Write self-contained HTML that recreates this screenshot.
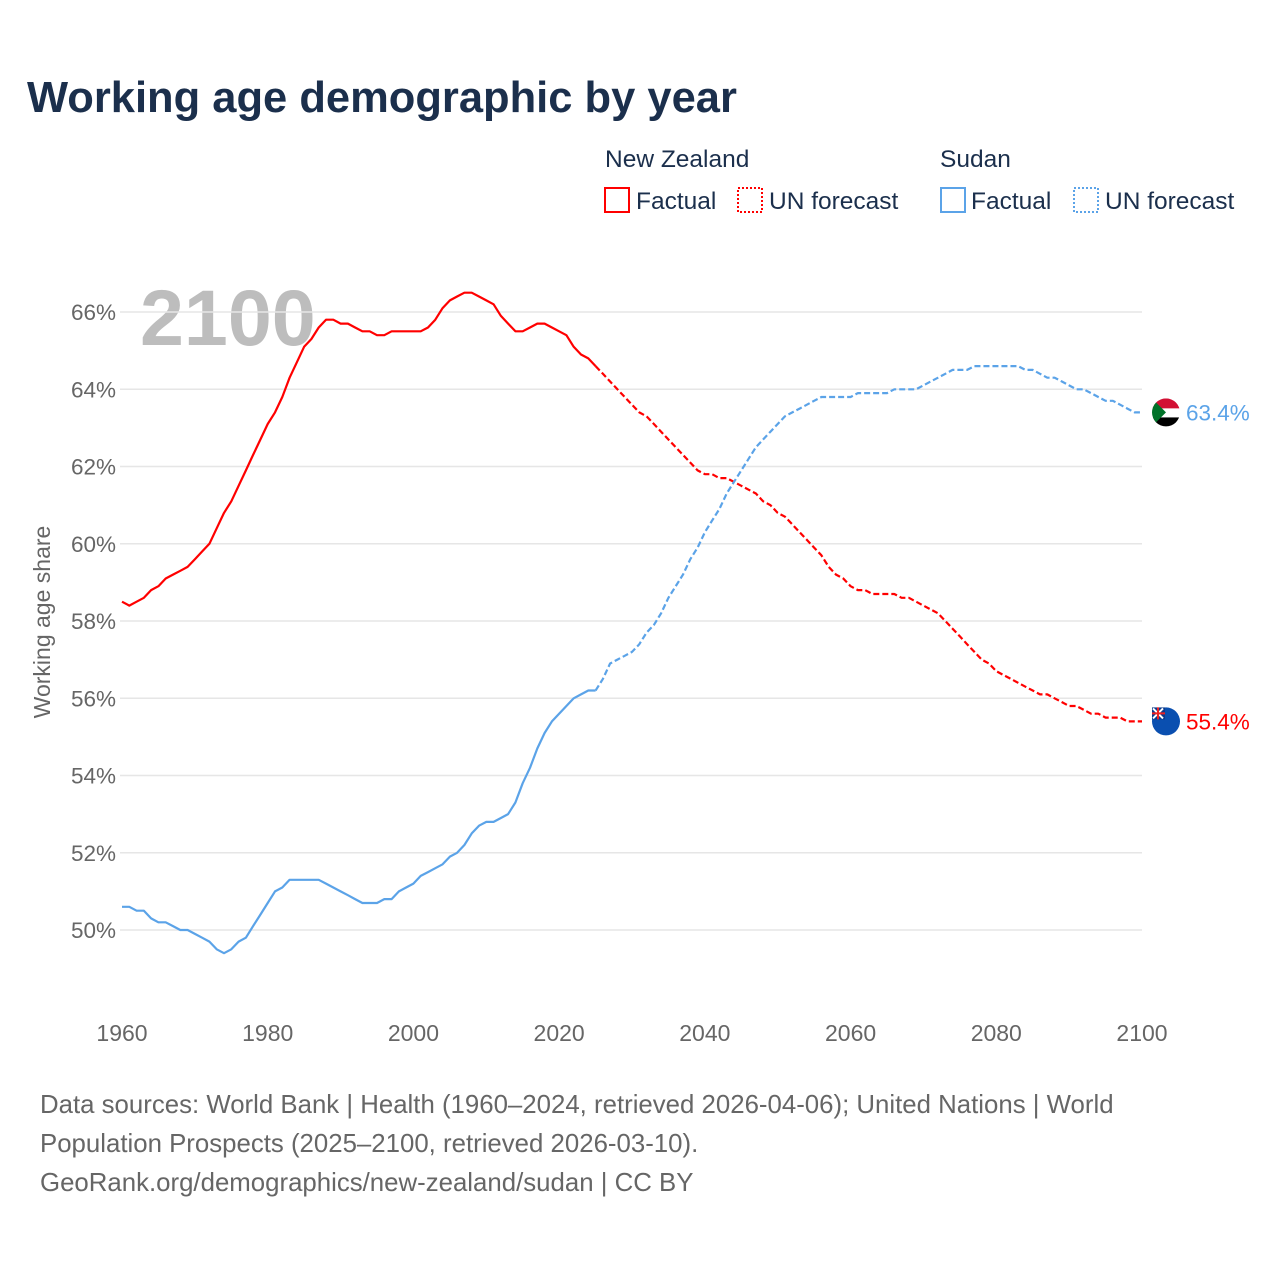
<!DOCTYPE html>
<html><head><meta charset="utf-8"><style>
body{margin:0;background:#fff;width:1280px;height:1280px;overflow:hidden;font-family:"Liberation Sans",sans-serif}
</style></head><body>
<svg id="chart" width="1280" height="1280" xmlns="http://www.w3.org/2000/svg" font-family="Liberation Sans, sans-serif">
<text x="27" y="112" font-size="43.5" font-weight="bold" fill="#1b2f4c">Working age demographic by year</text>
<g font-size="24.5" fill="#1b2f4c">
<text x="605" y="167">New Zealand</text>
<rect x="605" y="188" width="24" height="24" fill="none" stroke="#f00" stroke-width="2"/>
<text x="636" y="209">Factual</text>
<rect x="738" y="188" width="24" height="24" fill="none" stroke="#f00" stroke-width="2" stroke-dasharray="2,2"/>
<text x="769" y="209">UN forecast</text>
<text x="940" y="167">Sudan</text>
<rect x="941" y="188" width="24" height="24" fill="none" stroke="#5ba3e8" stroke-width="2"/>
<text x="971" y="209">Factual</text>
<rect x="1074" y="188" width="24" height="24" fill="none" stroke="#5ba3e8" stroke-width="2" stroke-dasharray="2,2"/>
<text x="1105" y="209">UN forecast</text>
</g>
<text x="140" y="345" font-size="79" font-weight="bold" fill="#bdbdbd">2100</text>
<g id="grid"></g><g id="axes"></g><g id="lines"></g><g id="ends"></g>
<text transform="translate(50,622) rotate(-90)" text-anchor="middle" font-size="23" fill="#666">Working age share</text>
<g font-size="25.8" fill="#666">
<text x="40" y="1113">Data sources: World Bank | Health (1960–2024, retrieved 2026-04-06); United Nations | World</text>
<text x="40" y="1152">Population Prospects (2025–2100, retrieved 2026-03-10).</text>
<text x="40" y="1191">GeoRank.org/demographics/new-zealand/sudan | CC BY</text>
</g>
</svg>
<script>
const yTicks=[50,52,54,56,58,60,62,64,66];
const xTicks=[1960,1980,2000,2020,2040,2060,2080,2100];
const factualStart=1960;
const forecastStart=2025;
const nzFactual=[58.5,58.4,58.5,58.6,58.8,58.9,59.1,59.2,59.3,59.4,59.6,59.8,60.0,60.4,60.8,61.1,61.5,61.9,62.3,62.7,63.1,63.4,63.8,64.3,64.7,65.1,65.3,65.6,65.8,65.8,65.7,65.7,65.6,65.5,65.5,65.4,65.4,65.5,65.5,65.5,65.5,65.5,65.6,65.8,66.1,66.3,66.4,66.5,66.5,66.4,66.3,66.2,65.9,65.7,65.5,65.5,65.6,65.7,65.7,65.6,65.5,65.4,65.1,64.9,64.8,64.6];
const nzForecast=[64.6,64.4,64.2,64.0,63.8,63.6,63.4,63.3,63.1,62.9,62.7,62.5,62.3,62.1,61.9,61.8,61.8,61.7,61.7,61.6,61.5,61.4,61.3,61.1,61.0,60.8,60.7,60.5,60.3,60.1,59.9,59.7,59.4,59.2,59.1,58.9,58.8,58.8,58.7,58.7,58.7,58.7,58.6,58.6,58.5,58.4,58.3,58.2,58.0,57.8,57.6,57.4,57.2,57.0,56.9,56.7,56.6,56.5,56.4,56.3,56.2,56.1,56.1,56.0,55.9,55.8,55.8,55.7,55.6,55.6,55.5,55.5,55.5,55.4,55.4,55.4];
const sdFactual=[50.6,50.6,50.5,50.5,50.3,50.2,50.2,50.1,50.0,50.0,49.9,49.8,49.7,49.5,49.4,49.5,49.7,49.8,50.1,50.4,50.7,51.0,51.1,51.3,51.3,51.3,51.3,51.3,51.2,51.1,51.0,50.9,50.8,50.7,50.7,50.7,50.8,50.8,51.0,51.1,51.2,51.4,51.5,51.6,51.7,51.9,52.0,52.2,52.5,52.7,52.8,52.8,52.9,53.0,53.3,53.8,54.2,54.7,55.1,55.4,55.6,55.8,56.0,56.1,56.2,56.2];
const sdForecast=[56.2,56.5,56.9,57.0,57.1,57.2,57.4,57.7,57.9,58.2,58.6,58.9,59.2,59.6,59.9,60.3,60.6,60.9,61.3,61.6,61.9,62.2,62.5,62.7,62.9,63.1,63.3,63.4,63.5,63.6,63.7,63.8,63.8,63.8,63.8,63.8,63.9,63.9,63.9,63.9,63.9,64.0,64.0,64.0,64.0,64.1,64.2,64.3,64.4,64.5,64.5,64.5,64.6,64.6,64.6,64.6,64.6,64.6,64.6,64.5,64.5,64.4,64.3,64.3,64.2,64.1,64.0,64.0,63.9,63.8,63.7,63.7,63.6,63.5,63.4,63.4];
const NS="http://www.w3.org/2000/svg";
const X=y=>122+(y-1960)*(1020/140);
const Y=v=>312+(66-v)*38.625;
function mk(t,a,p){const e=document.createElementNS(NS,t);for(const k in a)e.setAttribute(k,a[k]);document.getElementById(p).appendChild(e);return e;}
yTicks.forEach(v=>{
 const l=mk('line',{x1:120,x2:1142,y1:Y(v),y2:Y(v),stroke:'#e6e6e6','stroke-width':1.5},'grid');
 
 
 const t=mk('text',{x:116,y:Y(v)+8,'text-anchor':'end','font-size':22.5,fill:'#666'},'axes');t.textContent=v+'%';
 
 
});
xTicks.forEach(yr=>{
 const t=mk('text',{x:X(yr),y:1041,'text-anchor':'middle','font-size':23,fill:'#666'},'axes');t.textContent=yr;
 
 
});
function line(arr,start,color,dash,name){
 const d=arr.map((v,i)=>(i?'L':'M')+X(start+i).toFixed(1)+' '+Y(v).toFixed(1)).join(' ');
 const p=mk('path',{d:d,fill:'none',stroke:color,'stroke-width':2.2,'stroke-linejoin':'round'},'lines');
 if(dash)p.setAttribute('stroke-dasharray','6,3');
 
 
}
line(nzFactual,factualStart,'#f00',false,'nz-factual-line');
line(nzForecast,forecastStart,'#f00',true,'nz-forecast-line');
line(sdFactual,factualStart,'#5ba3e8',false,'sudan-factual-line');
line(sdForecast,forecastStart,'#5ba3e8',true,'sudan-forecast-line');
const sdEnd=sdForecast[sdForecast.length-1], nzEnd=nzForecast[nzForecast.length-1];
const cx=1166;
let sy=Y(sdEnd);
let g=mk('g',{},'ends');


g.innerHTML=`<clipPath id="cs"><circle cx="${cx}" cy="${sy}" r="14"/></clipPath><g clip-path="url(#cs)"><rect x="${cx-14}" y="${sy-14}" width="28" height="10" fill="#d21034"/><rect x="${cx-14}" y="${sy-4}" width="28" height="9" fill="#fff"/><rect x="${cx-14}" y="${sy+5}" width="28" height="10" fill="#000"/><polygon points="${cx-14},${sy-14} ${cx},${sy} ${cx-14},${sy+14}" fill="#007229"/></g>`;
let t=mk('text',{x:1186,y:sy+8,'font-size':22.5,fill:'#5ba3e8'},'ends');t.textContent=sdEnd.toFixed(1)+'%';


let ny=Y(nzEnd);
g=mk('g',{},'ends');


g.innerHTML=`<circle cx="${cx}" cy="${ny}" r="14" fill="#0a4fb0"/><rect x="${cx-14}" y="${ny-14}" width="13" height="12" fill="#0a3a8c"/><path d="M${cx-13} ${ny-13} L${cx-3} ${ny-3} M${cx-3} ${ny-13} L${cx-13} ${ny-3}" stroke="#fff" stroke-width="2"/><path d="M${cx-8} ${ny-14} V${ny-2} M${cx-14} ${ny-8} H${cx-1}" stroke="#e22" stroke-width="2"/>`;
t=mk('text',{x:1186,y:ny+8,'font-size':22.5,fill:'#f00'},'ends');t.textContent=nzEnd.toFixed(1)+'%';


</script>
</body></html>
